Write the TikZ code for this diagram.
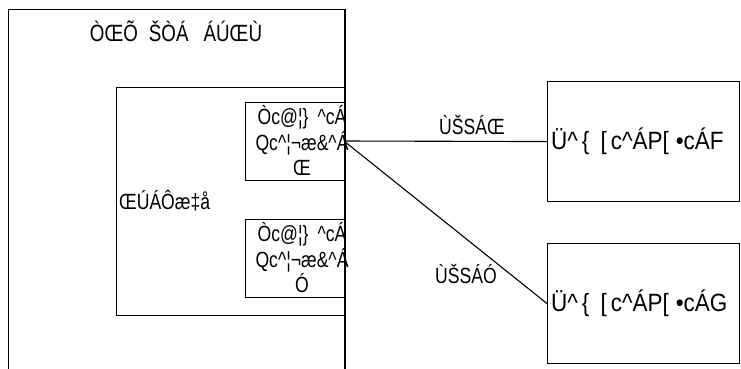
\documentclass[tikz,border=0pt]{standalone}
\usepackage{fontspec}
\setmainfont{Liberation Sans}[FakeStretch=0.8]
\newfontfamily\widefont{Liberation Sans}[FakeStretch=0.9]
\newcommand{\crt}{\textasciicircum{}}
\begin{document}
\begin{tikzpicture}[x=1pt,y=-1pt,
  box/.style={draw,line width=1.1pt,inner sep=0pt,anchor=north west},
  txt/.style={inner sep=0pt,font=\fontsize{22}{25.5}\selectfont},
  pstxt/.style={inner sep=0pt,anchor=west,font=\widefont\fontsize{25}{28}\selectfont},
  wire/.style={line width=1.1pt}]
\useasboundingbox (0,0) rectangle (741,368);
\node[box,minimum width=336pt,minimum height=380pt] (chassis) at (8,9) {};
\node[box,minimum width=228pt,minimum height=228pt] (blade) at (116,87) {};
\node[box,minimum width=99pt,minimum height=78pt] (card1) at (245,102) {};
\node[box,minimum width=99pt,minimum height=78pt] (card2) at (245,219) {};
\node[box,minimum width=192pt,minimum height=120pt] (ps1) at (547,81) {};
\node[box,minimum width=192pt,minimum height=120pt] (ps2) at (547,243) {};
\draw[line width=1.4pt] (chassis.north east) -- (chassis.south east);
\node[txt,font=\fontsize{23.5}{26}\selectfont] (title) at (176,31) {ÒŒÕ\hspace{11pt}ŠÒÁ\hspace{15pt}ÁÚŒÙ};
\node[txt,anchor=west] (bladelbl) at (119,201) {ŒÚÁÔæ‡å};
\node[txt,align=center] (c1txt) at (302,141) {Òc@¦\}\hspace{9pt}\crt cÁ\\Qc\crt ¦¬æ\&\crt Á\\Œ};
\node[txt,align=center] (c2txt) at (302,258) {Òc@¦\}\hspace{9pt}\crt cÁ\\Qc\crt ¦¬æ\&\crt Á\\Ó};
\node[pstxt] (ps1txt) at (551,141) {Ü\crt\hspace{4pt}\{\hspace{11pt}[\hspace{4pt}c\crt ÁP[\hspace{7pt}•cÁF};
\node[pstxt] (ps2txt) at (551,303) {Ü\crt\hspace{4pt}\{\hspace{11pt}[\hspace{4pt}c\crt ÁP[\hspace{7pt}•cÁG};
\coordinate (port) at (344,141);
\draw[wire] (port) -- (ps1.west);
\draw[wire] (port) -- (ps2.west);
\node[txt] (link1) at (472,125) {ÙŠSÁŒ};
\node[txt] (link2) at (466,274) {ÙŠSÁÓ};
\end{tikzpicture}
\end{document}
